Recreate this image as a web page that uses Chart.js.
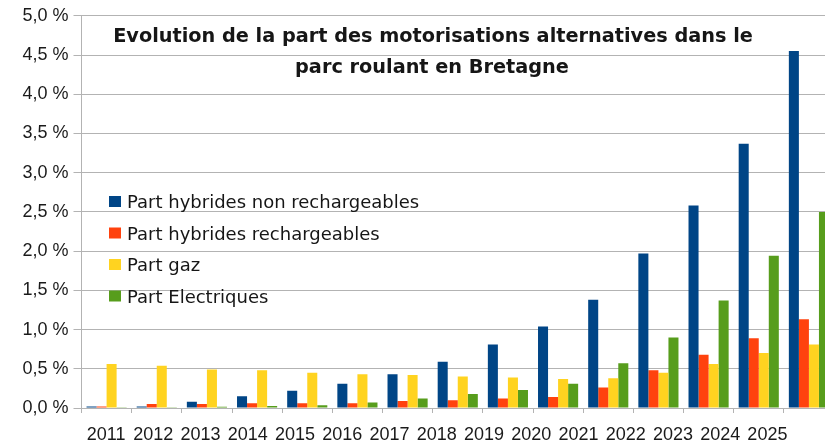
<!DOCTYPE html>
<html>
<head>
<meta charset="utf-8">
<script src="https://cdn.jsdelivr.net/npm/chart.js@4"></script>
<style>
  html, body { margin: 0; padding: 0; overflow: hidden; background: #fff; }
  #wrap { width: 840px; height: 440px; }
</style>
</head>
<body>
<div id="wrap"><canvas id="chart" width="840" height="440"></canvas></div>
<script>
const years = ['2011', '2012', '2013', '2014', '2015', '2016', '2017', '2018', '2019', '2020', '2021', '2022', '2023', '2024', '2025'];
const hybridesNonRech = [0.02, 0.02, 0.08, 0.15, 0.22, 0.31, 0.43, 0.59, 0.81, 1.04, 1.38, 1.97, 2.58, 3.37, 4.55];
const hybridesRech = [0.02, 0.05, 0.05, 0.06, 0.06, 0.06, 0.09, 0.10, 0.12, 0.14, 0.26, 0.48, 0.68, 0.89, 1.13];
const gaz = [0.56, 0.54, 0.49, 0.48, 0.45, 0.43, 0.42, 0.40, 0.39, 0.37, 0.38, 0.45, 0.56, 0.70, 0.81];
const electriques = [0.01, 0.01, 0.015, 0.025, 0.035, 0.07, 0.12, 0.18, 0.23, 0.31, 0.57, 0.90, 1.37, 1.94, 2.50];
const seriesNames = ['Part hybrides non rechargeables', 'Part hybrides rechargeables', 'Part gaz', 'Part Electriques'];
const titleLines = ['Evolution de la part des motorisations alternatives dans le', 'parc roulant en Bretagne'];

const colors = ['#004586', '#ff420e', '#ffd320', '#579d1c'];
const textColor = '#1a1a1a';
const gridColor = '#b3b3b3';

// titre et legende poses dans la zone du graphique, comme sur l'original
const overlay = {
  id: 'overlay',
  afterDraw(chart) {
    const ctx = chart.ctx;
    ctx.save();
    ctx.fillStyle = '#161616';
    ctx.textAlign = 'center';
    ctx.font = 'bold 19.3px "DejaVu Sans"';
    ctx.fillText(titleLines[0], 433, 42);
    ctx.fillText(titleLines[1], 432, 73);
    ctx.textAlign = 'left';
    ctx.font = '18px "DejaVu Sans"';
    chart.data.datasets.forEach((ds, i) => {
      const y = 208 + i * 31.5;
      ctx.fillStyle = ds.backgroundColor;
      ctx.fillRect(109, y - 12, 12, 11);
      ctx.fillStyle = '#161616';
      ctx.fillText(ds.label, 127, y);
    });
    ctx.restore();
  }
};

const series = [hybridesNonRech, hybridesRech, gaz, electriques];

new Chart(document.getElementById('chart'), {
  type: 'bar',
  data: {
    labels: years,
    datasets: series.map((values, i) => ({
      label: seriesNames[i],
      data: values,
      backgroundColor: colors[i],
      borderWidth: 0,
      categoryPercentage: 0.8,
      barPercentage: 1.0
    }))
  },
  options: {
    responsive: false,
    animation: false,
    layout: { padding: { top: 14.5, right: 6, bottom: 0, left: 0 } },
    plugins: {
      legend: { display: false },
      title: { display: false },
      tooltip: { enabled: false }
    },
    scales: {
      x: {
        weight: 0,
        grid: { drawOnChartArea: false, tickLength: 5, color: gridColor },
        border: { color: gridColor },
        ticks: { display: false }
      },
      // axe separe pour les annees: leur espacement ne suit pas les groupes de barres
      x2: {
        type: 'linear',
        position: 'bottom',
        weight: 1,
        offset: false,
        bounds: 'data',
        min: 2010.48,
        max: 2026.41,
        afterBuildTicks: s => { s.ticks = years.map(y => ({ value: Number(y) })); },
        afterFit: s => { s.height = 27; },
        grid: { display: false, offset: false },
        border: { display: false },
        ticks: {
          padding: 3,
          autoSkip: false,
          maxRotation: 0,
          color: textColor,
          font: { family: 'Liberation Sans', size: 18 },
          callback: v => String(v)
        }
      },
      y: {
        min: 0,
        max: 5,
        afterFit: s => { s.width = 81.5; },
        grid: { color: gridColor, tickLength: 8 },
        border: { color: gridColor },
        ticks: {
          stepSize: 0.5,
          padding: 5,
          color: textColor,
          font: { family: 'Liberation Sans', size: 18 },
          callback: v => v.toFixed(1).replace('.', ',') + ' %'
        }
      }
    }
  },
  plugins: [overlay]
});
</script>
</body>
</html>
